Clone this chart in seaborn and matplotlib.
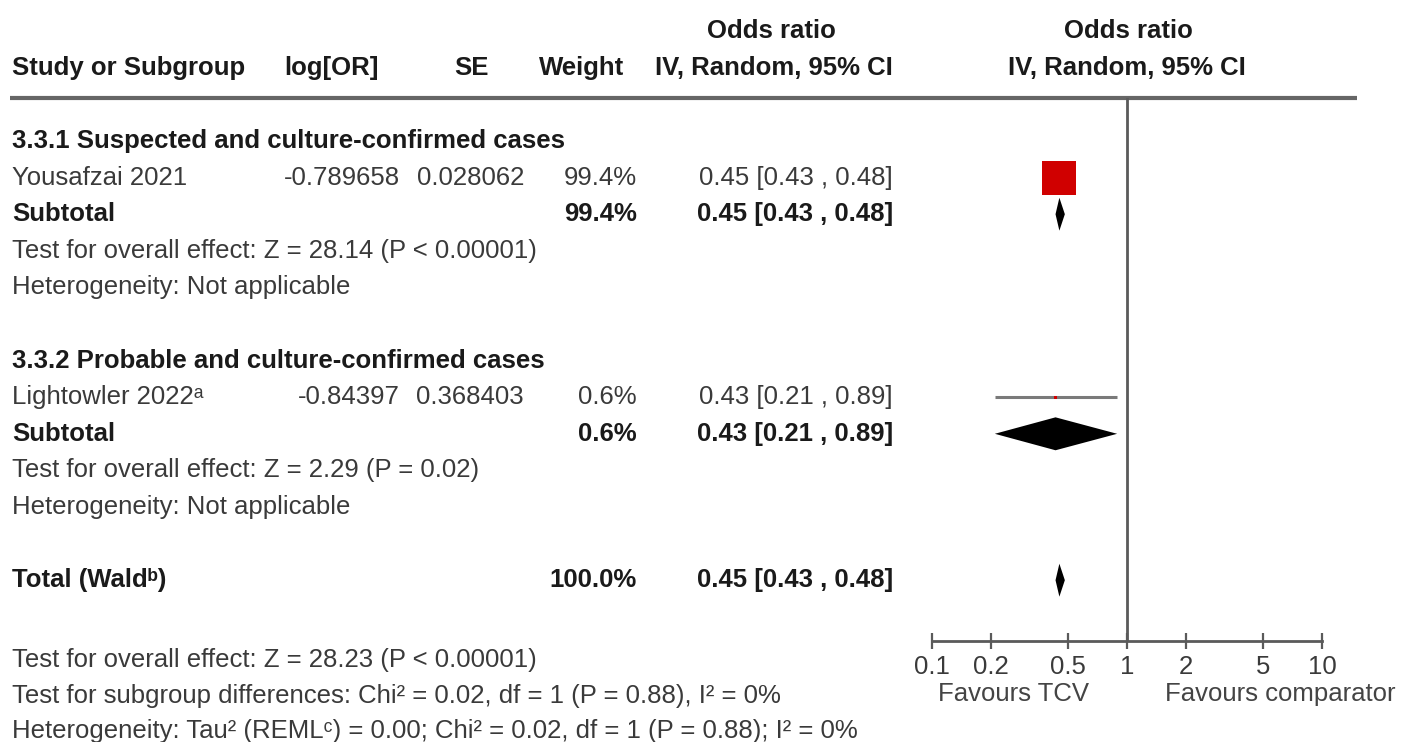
import numpy as np
import pandas as pd
import seaborn as sns
import matplotlib.pyplot as plt
from matplotlib.ticker import NullLocator

# ---- data ----
studies = ["Yousafzai 2021", "Lightowler 2022ᵃ"]
log_or = ["-0.789658", "-0.84397"]
se = ["0.028062", "0.368403"]
weight = [99.4, 0.6]
or_est = [0.45, 0.43]
or_lo = [0.43, 0.21]
or_hi = [0.48, 0.89]

subgroups = ["3.3.1 Suspected and culture-confirmed cases",
             "3.3.2 Probable and culture-confirmed cases"]
sub_weight = [99.4, 0.6]
sub_est = [0.45, 0.43]
sub_lo = [0.43, 0.21]
sub_hi = [0.48, 0.89]
sub_effect = ["Test for overall effect: Z = 28.14 (P < 0.00001)",
              "Test for overall effect: Z = 2.29 (P = 0.02)"]
sub_het = ["Heterogeneity: Not applicable", "Heterogeneity: Not applicable"]

total_label = "Total (Waldᵇ)"
total_weight = 100.0
total_est, total_lo, total_hi = 0.45, 0.43, 0.48

footer = ["Test for overall effect: Z = 28.23 (P < 0.00001)",
          "Test for subgroup differences: Chi² = 0.02, df = 1 (P = 0.88), I² = 0%",
          "Heterogeneity: Tau² (REMLᶜ) = 0.00; Chi² = 0.02, df = 1 (P = 0.88); I² = 0%"]

ticks = [0.1, 0.2, 0.5, 1, 2, 5, 10]
tick_labels = ["0.1", "0.2", "0.5", "1", "2", "5", "10"]
favours = ["Favours TCV", "Favours comparator"]

# ---- style ----
sns.set_theme(style="white")
plt.rcParams['font.family'] = ['Liberation Sans', 'DejaVu Sans']
FS = 18.5
TXT = '#3a3a3a'
BLD = '#1a1a1a'
LINE = '#5a5a5a'

W, H = 1411, 742
fig = plt.figure(figsize=(W / 100, H / 100), dpi=100)


def row_y(px):
    # pixel row -> table row units
    return (px - 141) / 36.6


ax = fig.add_axes([0, 0, 1, 1])
ax.set_xlim(0, W)
ax.set_ylim(row_y(H), row_y(0))
ax.axis('off')

# column anchors (pixels)
X_STUDY, X_LOG, X_SE, X_W, X_CI = 12, 400, 524, 637, 893


def txt(x, y, s, ha='left', bold=False, color=None, size=FS):
    ax.text(x, y, s, ha=ha, va='center', fontsize=size,
            fontweight='bold' if bold else 'normal',
            color=color or (BLD if bold else TXT))


# header
txt(12, -2, "Study or Subgroup", bold=True)
txt(332, -2, "log[OR]", ha='center', bold=True)
txt(471, -2, "SE", ha='center', bold=True)
txt(624, -2, "Weight", ha='right', bold=True)
txt(771, -3, "Odds ratio", ha='center', bold=True)
txt(X_CI, -2, "IV, Random, 95% CI", ha='right', bold=True)
txt(1128, -3, "Odds ratio", ha='center', bold=True)
txt(1127, -2, "IV, Random, 95% CI", ha='center', bold=True)
ax.hlines(row_y(98), 10, 1357, color='#666666', lw=3)

# forest axes
fx0, fx1, fy0, fy1 = 932, 1322, 98, 641
fa = fig.add_axes([fx0 / W, 1 - fy1 / H, (fx1 - fx0) / W, (fy1 - fy0) / H])
fa.patch.set_alpha(0)
fa.set_xscale('log')
fa.set_xlim(0.1, 10)
fa.set_ylim(row_y(fy1), row_y(fy0))

study_rows = []
for g in range(len(subgroups)):
    base = 6 * g
    txt(X_STUDY, base, subgroups[g], bold=True)
    txt(X_STUDY, base + 1, studies[g])
    txt(X_LOG, base + 1, log_or[g], ha='right')
    txt(X_SE, base + 1, se[g], ha='right')
    txt(X_W, base + 1, f"{weight[g]:.1f}%", ha='right')
    txt(X_CI, base + 1, f"{or_est[g]:.2f} [{or_lo[g]:.2f} , {or_hi[g]:.2f}]", ha='right')
    txt(X_STUDY, base + 2, "Subtotal", bold=True)
    txt(X_W, base + 2, f"{sub_weight[g]:.1f}%", ha='right', bold=True)
    txt(X_CI, base + 2, f"{sub_est[g]:.2f} [{sub_lo[g]:.2f} , {sub_hi[g]:.2f}]", ha='right', bold=True)
    txt(X_STUDY, base + 3, sub_effect[g])
    txt(X_STUDY, base + 4, sub_het[g])
    study_rows.append(base + 1)
    # subtotal diamond
    r = base + 2
    fa.fill([sub_lo[g], sub_est[g], sub_hi[g], sub_est[g]],
            [r, r - 0.45, r, r + 0.45], color='black', lw=0, zorder=3)

# total row
txt(X_STUDY, 12, total_label, bold=True)
txt(X_W, 12, f"{total_weight:.1f}%", ha='right', bold=True)
txt(X_CI, 12, f"{total_est:.2f} [{total_lo:.2f} , {total_hi:.2f}]", ha='right', bold=True)
fa.fill([total_lo, total_est, total_hi, total_est],
        [12, 12 - 0.45, 12, 12 + 0.45], color='black', lw=0, zorder=3)

for s, y in zip(footer, [14.18, 15.16, 16.12]):
    txt(X_STUDY, y, s)

# study CIs and squares
df = pd.DataFrame({"or": or_est, "lo": or_lo, "hi": or_hi,
                   "row": study_rows, "w": weight})
df["s"] = 600 * df["w"] / max(weight)
fa.hlines(df["row"], df["lo"], df["hi"], color='#7a7a7a', lw=2.2, zorder=2)
sns.scatterplot(data=df, x="or", y="row", size="s",
                sizes=(df["s"].min(), df["s"].max()), marker='s',
                color='#d00000', edgecolor='#d00000', linewidth=0,
                legend=False, ax=fa, zorder=4)

fa.axvline(1, color=LINE, lw=2, zorder=1)
for s in ['top', 'left', 'right']:
    fa.spines[s].set_visible(False)
fa.spines['bottom'].set_color(LINE)
fa.spines['bottom'].set_linewidth(2)
fa.set_xticks(ticks)
fa.set_xticklabels(tick_labels)
fa.xaxis.set_minor_locator(NullLocator())
fa.tick_params(axis='x', direction='inout', length=12, width=1.6, color=LINE,
               pad=4, labelsize=FS, labelcolor=TXT, bottom=True)
fa.set_yticks([])
fa.set_xlabel("")
fa.set_ylabel("")

txt(1013, row_y(694), favours[0], ha='center', color='#444444')
txt(1280, row_y(694), favours[1], ha='center', color='#444444')

fig.savefig("out.png", dpi=100)
